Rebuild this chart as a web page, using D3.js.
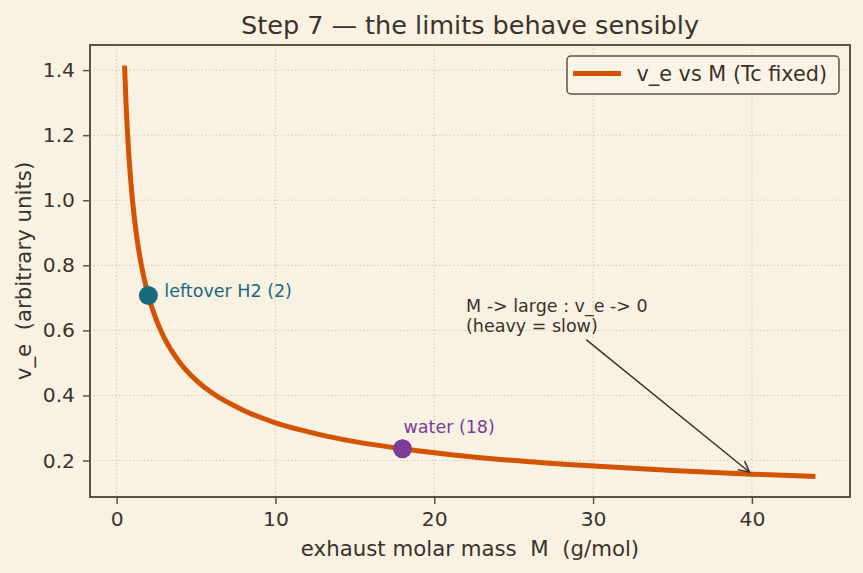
<!DOCTYPE html>
<html>
<head>
<meta charset="utf-8">
<script src="https://cdn.jsdelivr.net/npm/d3@7/dist/d3.min.js"></script>
<style>
  html, body { margin: 0; padding: 0; background: #f9f1e2; }
  svg { display: block; font-family: "DejaVu Sans", sans-serif; }
  text { white-space: pre; }
</style>
</head>
<body>
<div id="chart"></div>
<script>
// ---- data ----
const massM = [0.5, 0.6, 0.75, 0.8, 1, 1.25, 1.5, 2, 2.5, 3, 4, 5, 6, 8, 10, 12, 15, 18, 22, 26, 30, 35, 40, 44];
const velocity = [1.414, 1.291, 1.155, 1.118, 1.0, 0.894, 0.816, 0.707, 0.632, 0.577, 0.5, 0.447, 0.408, 0.354, 0.316, 0.289, 0.258, 0.236, 0.213, 0.196, 0.183, 0.169, 0.158, 0.151];
const markerNames = ["leftover H2 (2)", "water (18)"];
const markerM = [2, 18];
const markerV = [0.707, 0.236];
const xTicks = [0, 10, 20, 30, 40];
const yTicks = [0.2, 0.4, 0.6, 0.8, 1.0, 1.2, 1.4];
const annotationLines = ["M -> large : v_e -> 0", "(heavy = slow)"];
const annotationText = [22, 0.6];
const annotationTarget = [40, 0.158];
const seriesName = "v_e vs M (Tc fixed)";
const titleText = "Step 7 \u2014 the limits behave sensibly";
const xLabel = "exhaust molar mass  M  (g/mol)";
const yLabel = "v_e  (arbitrary units)";

// ---- styles ----
const W = 863, H = 573;
const plot = { left: 90, right: 850, top: 45, bottom: 497 };
const bg = "#f9f1e2";
const ink = "#3b322a";
const spine = "#5c5247";
const orange = "#d35400";
const markerColors = ["#176b7d", "#7d3c98"];

const svg = d3.select("#chart").append("svg").attr("width", W).attr("height", H);
svg.append("rect").attr("width", W).attr("height", H).attr("fill", bg);

const pad = (ext) => { const r = ext[1] - ext[0]; return [ext[0] - 0.05 * r, ext[1] + 0.05 * r]; };
const x = d3.scaleLinear().domain(pad(d3.extent(massM))).range([plot.left, plot.right]);
const y = d3.scaleLinear().domain(pad(d3.extent(velocity))).range([plot.bottom, plot.top]);

// grid
const grid = svg.append("g").attr("stroke", "#c9c0af").attr("stroke-width", 1).attr("stroke-dasharray", "1.2,2.4");
grid.selectAll(".gx").data(xTicks).join("line")
  .attr("x1", d => x(d)).attr("x2", d => x(d)).attr("y1", plot.top).attr("y2", plot.bottom);
grid.selectAll(".gy").data(yTicks).join("line")
  .attr("y1", d => y(d)).attr("y2", d => y(d)).attr("x1", plot.left).attr("x2", plot.right);

// axes
const xAxis = svg.append("g").attr("transform", `translate(0,${plot.bottom})`)
  .call(d3.axisBottom(x).tickValues(xTicks).tickFormat(d3.format("d")).tickSize(7).tickPadding(8));
const yAxis = svg.append("g").attr("transform", `translate(${plot.left},0)`)
  .call(d3.axisLeft(y).tickValues(yTicks).tickFormat(d3.format(".1f")).tickSize(7).tickPadding(8));
[xAxis, yAxis].forEach(a => {
  a.select(".domain").remove();
  a.selectAll(".tick line").attr("stroke", spine).attr("stroke-width", 1.5);
  a.selectAll(".tick text").attr("fill", ink).attr("font-size", 20.3).attr("font-family", "DejaVu Sans");
});

// curve
const clipId = "clipPlot";
svg.append("clipPath").attr("id", clipId).append("rect")
  .attr("x", plot.left).attr("y", plot.top).attr("width", plot.right - plot.left).attr("height", plot.bottom - plot.top);
const line = d3.line().x((d, i) => x(massM[i])).y(d => y(d)).curve(d3.curveMonotoneX);
svg.append("path").datum(velocity).attr("d", line)
  .attr("fill", "none").attr("stroke", orange).attr("stroke-width", 5).attr("stroke-linejoin", "round")
  .attr("clip-path", `url(#${clipId})`);

// markers + labels
markerM.forEach((m, i) => {
  svg.append("circle").attr("cx", x(m)).attr("cy", y(markerV[i])).attr("r", 9.5).attr("fill", markerColors[i]);
});
svg.append("text").attr("x", x(markerM[0]) + 16).attr("y", y(markerV[0]) + 1)
  .attr("font-size", 17.5).attr("fill", markerColors[0]).text(markerNames[0]);
svg.append("text").attr("x", x(markerM[1]) + 1).attr("y", y(markerV[1]) - 16)
  .attr("font-size", 17.5).attr("fill", markerColors[1]).text(markerNames[1]);

// annotation
const annFont = 17.5, lineH = 20;
const tx = x(annotationText[0]), tyBase = y(annotationText[1]) + 1.5;
const annG = svg.append("g");
annotationLines.forEach((t, i) => {
  annG.append("text").attr("x", tx).attr("y", tyBase - (annotationLines.length - 1 - i) * lineH)
    .attr("font-size", annFont).attr("fill", ink).text(t);
});
const bb = annG.node().getBBox();
const cx0 = bb.x + bb.width / 2, cy0 = bb.y + bb.height / 2;
const txT = x(annotationTarget[0]), tyT = y(annotationTarget[1]);
let dx = txT - cx0, dy = tyT - cy0;
const t0 = (bb.y + bb.height - cy0) / dy;
const len = Math.hypot(dx, dy), ux = dx / len, uy = dy / len;
const sx = cx0 + dx * t0 + ux * 6, sy = cy0 + dy * t0 + uy * 6;
const ex = txT - ux * 3, ey = tyT - uy * 3;
svg.append("line").attr("x1", sx).attr("y1", sy).attr("x2", ex).attr("y2", ey)
  .attr("stroke", ink).attr("stroke-width", 1.5);
const hl = 11, hw = 5.5;
const px = -uy, py = ux;
svg.append("path")
  .attr("d", `M${ex - ux * hl + px * hw},${ey - uy * hl + py * hw} L${ex},${ey} L${ex - ux * hl - px * hw},${ey - uy * hl - py * hw}`)
  .attr("fill", "none").attr("stroke", ink).attr("stroke-width", 1.5);

// frame
svg.append("rect").attr("x", plot.left).attr("y", plot.top)
  .attr("width", plot.right - plot.left).attr("height", plot.bottom - plot.top)
  .attr("fill", "none").attr("stroke", spine).attr("stroke-width", 2);

// legend
const lg = svg.append("g");
lg.append("rect").attr("x", 567).attr("y", 56).attr("width", 272).attr("height", 38).attr("rx", 4)
  .attr("fill", "#faf4e6").attr("stroke", spine).attr("stroke-width", 1.5);
lg.append("line").attr("x1", 573).attr("x2", 621).attr("y1", 73.5).attr("y2", 73.5)
  .attr("stroke", orange).attr("stroke-width", 5);
lg.append("text").attr("x", 636.5).attr("y", 80.5).attr("font-size", 20.8).attr("fill", ink).text(seriesName);

// titles
svg.append("text").attr("x", (plot.left + plot.right) / 2).attr("y", 34).attr("text-anchor", "middle")
  .attr("font-size", 25.5).attr("fill", ink).text(titleText);
svg.append("text").attr("x", (plot.left + plot.right) / 2).attr("y", 556).attr("text-anchor", "middle")
  .attr("font-size", 21.3).attr("fill", ink).text(xLabel);
svg.append("text").attr("transform", `translate(31,${(plot.top + plot.bottom) / 2}) rotate(-90)`)
  .attr("text-anchor", "middle").attr("font-size", 21.3).attr("fill", ink).text(yLabel);
</script>
</body>
</html>
